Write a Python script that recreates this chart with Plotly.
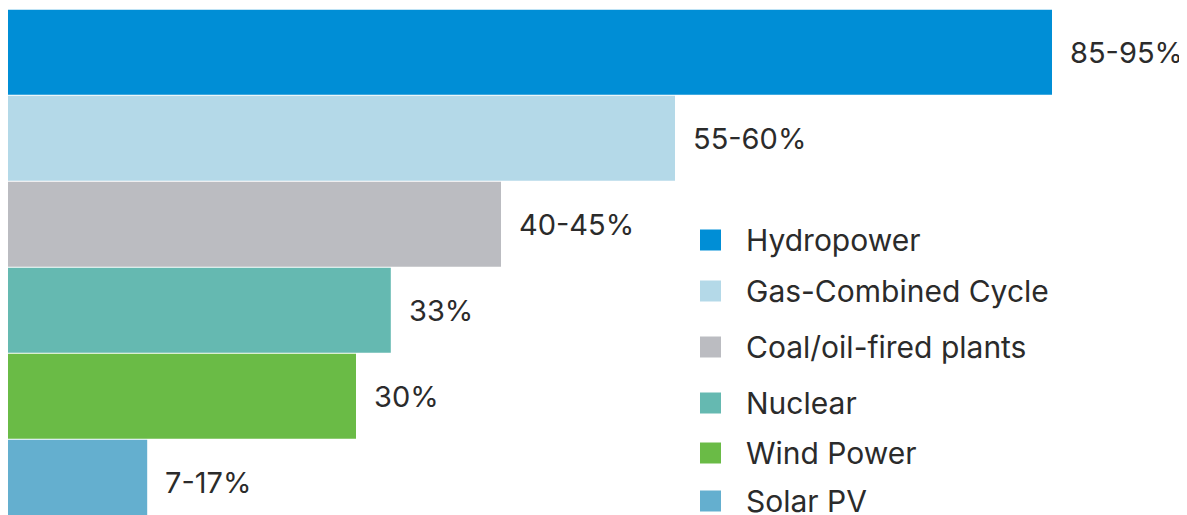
import plotly.graph_objects as go

categories = ["Hydropower", "Gas-Combined Cycle", "Coal/oil-fired plants",
              "Nuclear", "Wind Power", "Solar PV"]
range_low = [85, 55, 40, 33, 30, 7]
range_high = [95, 60, 45, 33, 30, 17]
labels = ["85-95%", "55-60%", "40-45%", "33%", "30%", "7-17%"]
colors = ["#008ED6", "#B4D9E8", "#BBBCC1", "#65B9B1", "#6ABB46", "#64AFCF"]

mid = [(a + b) / 2 for a, b in zip(range_low, range_high)]

FONT = "Inter"
TXT = "#2b2b2b"

W, H = 1179, 507

fig = go.Figure()
fig.add_trace(go.Bar(
    x=mid, y=categories, orientation="h",
    marker=dict(color=colors, line=dict(width=0)),
    width=0.988, showlegend=False, hoverinfo="skip",
))

annotations = []
for cat, v, lab in zip(categories, mid, labels):
    annotations.append(dict(
        x=v, y=cat, xref="x", yref="y", text=lab, showarrow=False,
        xanchor="left", yanchor="middle", xshift=16,
        font=dict(family=FONT, size=29, color=TXT),
    ))

# custom legend (paper coordinates)
legend_y_px = [232, 283, 339, 395, 445, 493]
shapes = []
for cat, col, ypx in zip(categories, colors, legend_y_px):
    yc = 1 - ypx / H
    shapes.append(dict(
        type="rect", xref="paper", yref="paper",
        x0=692 / W, x1=713 / W, y0=yc - 10.5 / H, y1=yc + 10.5 / H,
        fillcolor=col, line=dict(width=0),
    ))
    annotations.append(dict(
        x=736 / W, y=yc, xref="paper", yref="paper", text=cat,
        showarrow=False, xanchor="left", yanchor="middle",
        font=dict(family=FONT, size=30, color=TXT),
    ))

px_per_unit = 1044 / 90.0
row_px = 86.0
top = -0.515
fig.update_layout(
    width=W, height=H,
    margin=dict(l=0, r=0, t=0, b=0),
    paper_bgcolor="white", plot_bgcolor="white",
    xaxis=dict(range=[0, W / px_per_unit], visible=False, fixedrange=True),
    yaxis=dict(range=[top + H / row_px, top], visible=False, fixedrange=True,
               categoryorder="array", categoryarray=categories),
    annotations=annotations, shapes=shapes,
    bargap=0.012,
)

fig.write_html("out.html")
